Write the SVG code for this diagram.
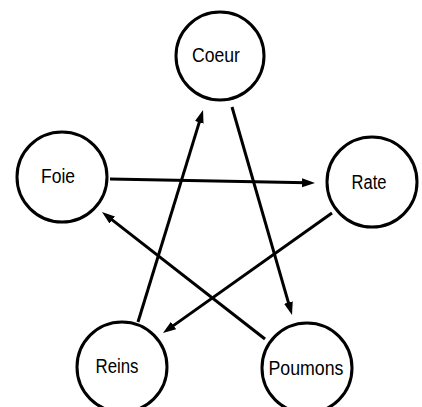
<svg xmlns="http://www.w3.org/2000/svg" width="422" height="407" viewBox="0 0 422 407">
<style>
.node circle{fill:#fff;stroke:#000;stroke-width:3}
.node text{font-family:"Liberation Sans",Arial,sans-serif;font-size:20px;fill:#000;text-anchor:middle}
.edge{stroke:#000;stroke-width:3;fill:none;marker-end:url(#ah)}
</style>
<defs>
<marker id="ah" markerUnits="userSpaceOnUse" markerWidth="14" markerHeight="10" refX="5" refY="4.5" orient="auto">
<path d="M0,0 L13,4.5 L0,9 z" fill="#000"/>
</marker>
</defs>
<rect width="422" height="407" fill="#fff"/>
<g id="connectors">
<line class="edge" x1="232" y1="107" x2="289.8" y2="307.3"/>
<line class="edge" x1="138" y1="322" x2="200.7" y2="117.6"/>
<line class="edge" x1="110" y1="179" x2="307" y2="182.8"/>
<line class="edge" x1="332" y1="213" x2="169.5" y2="328.4"/>
<line class="edge" x1="265" y1="339" x2="108.3" y2="216.9"/>
</g>
<g id="coeur" class="node"><circle cx="220" cy="56" r="44"/><text x="216" y="62" textLength="48" lengthAdjust="spacingAndGlyphs">Coeur</text></g>
<g id="foie" class="node"><circle cx="62" cy="177" r="45"/><text x="58" y="183" textLength="34" lengthAdjust="spacingAndGlyphs">Foie</text></g>
<g id="rate" class="node"><circle cx="372" cy="182" r="45"/><text x="369" y="189" textLength="35" lengthAdjust="spacingAndGlyphs">Rate</text></g>
<g id="reins" class="node"><circle cx="122" cy="367" r="45"/><text x="117" y="373" textLength="43" lengthAdjust="spacingAndGlyphs">Reins</text></g>
<g id="poumons" class="node"><circle cx="307" cy="368" r="45"/><text x="306" y="375" textLength="75" lengthAdjust="spacingAndGlyphs">Poumons</text></g>
</svg>
